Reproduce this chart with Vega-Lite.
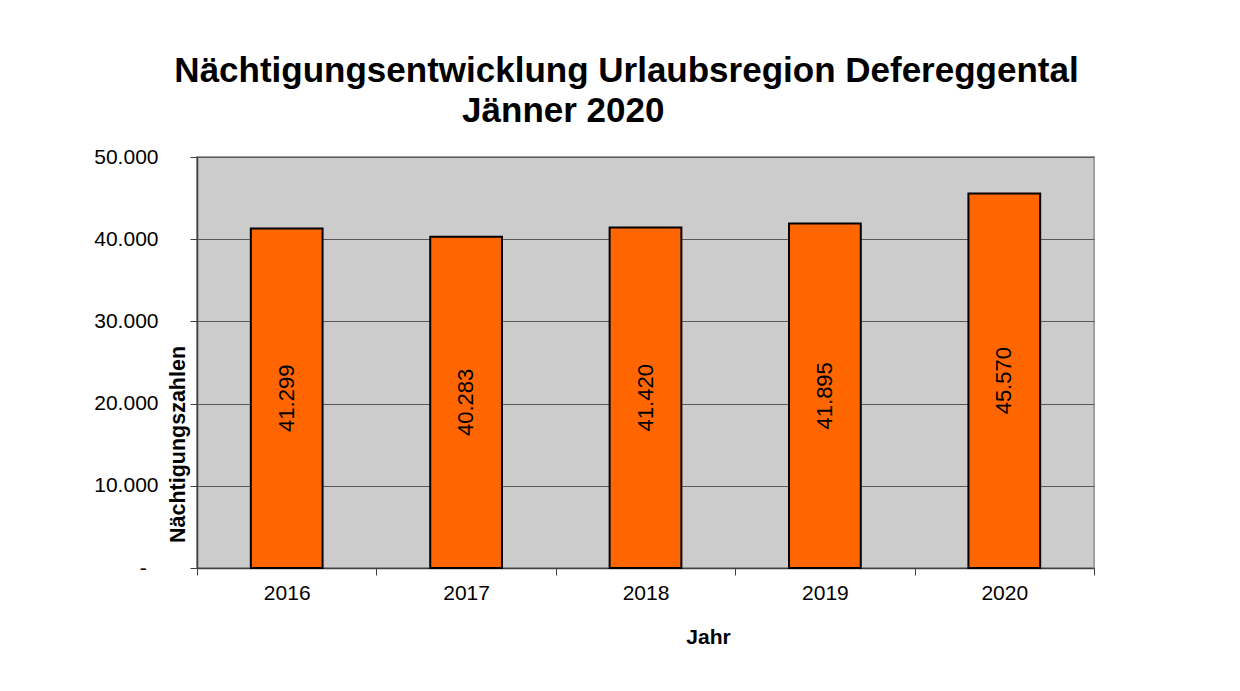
{
  "$schema": "https://vega.github.io/schema/vega-lite/v6.json",
  "autosize": "none",
  "width": 897,
  "height": 411,
  "padding": {"left": 197, "top": 157, "right": 146, "bottom": 123},
  "background": "white",
  "title": {
    "text": ["Nächtigungsentwicklung Urlaubsregion Defereggental", "Jänner 2020\u00a0\u00a0\u00a0\u00a0\u00a0\u00a0\u00a0\u00a0\u00a0\u00a0\u00a0\u00a0\u00a0\u200b"],
    "anchor": "middle",
    "font": "Liberation Sans",
    "fontSize": 35,
    "fontWeight": "bold",
    "color": "black",
    "lineHeight": 40,
    "offset": 17,
    "dx": -19
  },
  "data": {
    "values": [
      {"Jahr": "2016", "Wert": 41299},
      {"Jahr": "2017", "Wert": 40283},
      {"Jahr": "2018", "Wert": 41420},
      {"Jahr": "2019", "Wert": 41895},
      {"Jahr": "2020", "Wert": 45570}
    ]
  },
  "encoding": {
    "x": {
      "field": "Jahr",
      "type": "nominal",
      "scale": {"paddingInner": 0, "paddingOuter": 0},
      "axis": {
        "title": "Jahr",
        "labelAngle": 0,
        "tickBand": "extent",
        "tickSize": 7,
        "tickColor": "#404040",
        "domainColor": "#404040",
        "domainWidth": 1.5,
        "labelFont": "Liberation Sans",
        "labelFontSize": 21,
        "labelColor": "black",
        "labelPadding": 7,
        "titleFont": "Liberation Sans",
        "titleFontSize": 21,
        "titleFontWeight": "bold",
        "titleColor": "black",
        "titleX": 511,
        "titleY": 75,
        "titleBaseline": "alphabetic",
        "titleAlign": "center",
        "grid": false
      }
    }
  },
  "layer": [
    {
      "mark": {"type": "bar", "width": {"band": 0.4}, "fill": "#ff6600", "stroke": "black", "strokeWidth": 2},
      "encoding": {
        "y": {
          "field": "Wert",
          "type": "quantitative",
          "scale": {"domain": [0, 50000], "nice": false},
          "axis": {
            "title": "Nächtigungszahlen",
            "values": [0, 10000, 20000, 30000, 40000, 50000],
            "format": ",.0f",
            "labelExpr": "datum.value == 0 ? '-\u00a0\u00a0\u200b' : datum.label",
            "tickSize": 7,
            "tickColor": "#404040",
            "domainColor": "#404040",
            "domainWidth": 1.5,
            "labelFont": "Liberation Sans",
            "labelFontSize": 21,
            "labelColor": "black",
            "labelPadding": 32,
            "grid": true,
            "gridColor": "#5a5a5a",
            "gridWidth": 1,
            "titleFont": "Liberation Sans",
            "titleFontSize": 21.5,
            "titleFontWeight": "bold",
            "titleColor": "black",
            "titleAngle": 270,
            "titleX": -19,
            "titleY": 287,
            "titleBaseline": "middle",
            "titleAlign": "center"
          }
        }
      }
    },
    {
      "mark": {"type": "text", "angle": 270, "baseline": "middle", "align": "center", "font": "Liberation Sans", "fontSize": 22, "color": "black"},
      "encoding": {
        "y": {"field": "Wert", "type": "quantitative", "stack": "zero", "bandPosition": 0.5},
        "text": {"field": "Wert", "type": "quantitative", "format": ",.0f"}
      }
    }
  ],
  "config": {
    "locale": {"number": {"decimal": ",", "thousands": ".", "grouping": [3], "currency": ["", " €"]}},
    "view": {"fill": "#cccccc", "stroke": "#a0a0a0", "strokeWidth": 2}
  }
}
